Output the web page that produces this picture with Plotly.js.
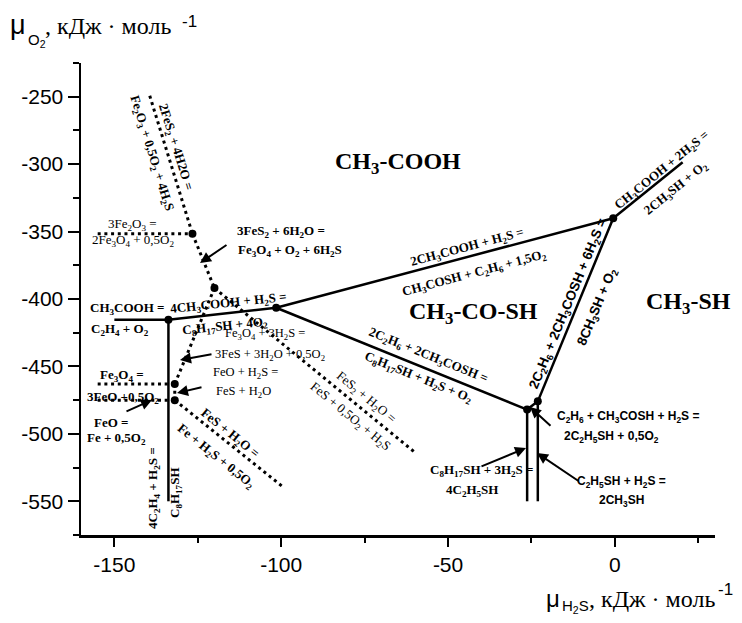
<!DOCTYPE html>
<html>
<head>
<meta charset="utf-8">
<script src="https://cdn.plot.ly/plotly-3.0.1.min.js"></script>
<style>html,body{margin:0;padding:0;background:#fff;}#chart{width:742px;height:623px;}</style>
</head>
<body>
<div id="chart"></div>
<script>
// ---- Data (µH2S, µO2 in kJ/mol) ----
// triple points
const A = [-0.5, -340.1];    // CH3COOH / CH3COSH / CH3SH
const B = [-101.5, -406.5];  // CH3COOH / CH3COSH / C8H17SH
const C = [-133.8, -415.4];  // CH3COOH / C2H4 / C8H17SH
const D = [-26.3, -482.0];   // CH3COSH / C8H17SH / C2H5SH
const E = [-23.1, -475.9];   // CH3COSH / C2H5SH / CH3SH
const F = [-126.6, -351.7];  // Fe2O3 / Fe3O4 / FeS2
const G = [-120.0, -391.9];  // Fe3O4 / FeS2 / FeS
const H = [-131.9, -463.0];  // Fe3O4 / FeO / FeS
const I = [-131.9, -475.0];  // FeO / Fe / FeS

// boundary end points
const endCH3COOH_C2H4 = [-150.0, -415.4];
const endCH3COOH_CH3SH = [20.3, -298.6];
const endC2H4_C8H17SH = [-133.8, -550.0];
const endC8H17SH_C2H5SH = [-26.3, -550.0];
const endC2H5SH_CH3SH = [-23.1, -550.0];
const endFe2O3_FeS2 = [-139.4, -249.3];
const endFe2O3_Fe3O4 = [-155.0, -351.7];
const endFeS2_FeS = [-60.1, -513.4];
const endFe3O4_FeO = [-155.0, -463.0];
const endFeO_Fe = [-155.0, -475.0];
const endFeS_Fe = [-99.5, -539.3];

const solidBoundaries = [
  [endCH3COOH_C2H4, C], [C, B], [B, A], [A, endCH3COOH_CH3SH],
  [C, endC2H4_C8H17SH], [B, D], [A, E], [D, E],
  [D, endC8H17SH_C2H5SH], [E, endC2H5SH_CH3SH]
];
const dottedBoundaries = [
  [endFe2O3_FeS2, F], [endFe2O3_Fe3O4, F], [F, G], [G, H], [G, endFeS2_FeS],
  [endFe3O4_FeO, H], [H, I], [endFeO_Fe, I], [I, endFeS_Fe]
];
const triplePoints = [A, B, C, D, E, F, G, H, I];

const xTickVals = [-150, -100, -50, 0];
const xTickText = ['-150', '-100', '-50', '0'];
const yTickVals = [-250, -300, -350, -400, -450, -500, -550];
const yTickText = ['-250', '-300', '-350', '-400', '-450', '-500', '-550'];

// ---- build traces ----
function segTrace(segs, line) {
  const x = [], y = [];
  segs.forEach(s => { x.push(s[0][0], s[1][0], null); y.push(s[0][1], s[1][1], null); });
  return {type: 'scatter', mode: 'lines', x: x, y: y, line: line, hoverinfo: 'skip', showlegend: false, connectgaps: false};
}
const traces = [
  segTrace(solidBoundaries, {color: '#000', width: 2.5}),
  segTrace(dottedBoundaries, {color: '#000', width: 3, dash: '3px,3.7px'}),
  {type: 'scatter', mode: 'markers', x: triplePoints.map(p => p[0]), y: triplePoints.map(p => p[1]),
   marker: {color: '#000', size: 8}, hoverinfo: 'skip', showlegend: false}
];

// ---- layout helpers (pixel positions in the 742x623 image) ----
const L = 81, T = 63, W = 634, Hh = 472;
const pxX = v => (v - L) / W;
const pxY = v => (T + Hh - v) / Hh;
const SERIF = 'Liberation Serif, Times New Roman, serif';
const SANS = 'Liberation Sans, Arial, sans-serif';
const NARROW = 'Liberation Sans Narrow, Arial Narrow, Liberation Sans, Arial, sans-serif';
const fSB = {family: SERIF, size: 13, color: '#000', weight: 'bold'};
const fSN = {family: SERIF, size: 13, color: '#000'};
const fSN2 = {family: SERIF, size: 12.5, color: '#000'};
const fAB = {family: NARROW, size: 13.5, color: '#000', weight: 'bold'};
const fAB2 = {family: NARROW, size: 12, color: '#000', weight: 'bold'};
const fReg = {family: SERIF, size: 24, color: '#000', weight: 'bold'};

const ann = [];
function lab(text, x, y, font, angle, anchor) {
  ann.push({text: text, x: pxX(x), y: pxY(y), xref: 'paper', yref: 'paper', showarrow: false,
    font: font, textangle: angle || 0, xanchor: anchor || 'center', yanchor: 'middle', borderpad: 0});
}
function arrow(tx, ty, hx, hy) {
  ann.push({text: '', x: pxX(hx), y: pxY(hy), xref: 'paper', yref: 'paper', showarrow: true,
    ax: tx - hx, ay: ty - hy, arrowhead: 2, arrowsize: 1.1, arrowwidth: 2, arrowcolor: '#000', standoff: 0, startstandoff: 0});
}

// region labels
lab('CH<sub>3</sub>-COOH', 398, 163, fReg);
lab('CH<sub>3</sub>-CO-SH', 473, 313, fReg);
lab('CH<sub>3</sub>-SH', 688, 303, fReg);

// Fe system labels
lab('2FeS<sub>2</sub> + 4H2O =', 176, 147, fSB, 72.7);
lab('Fe<sub>2</sub>O<sub>3</sub> + 0,5O<sub>2</sub> + 4H<sub>2</sub>S', 152, 153, fSB, 72.7);
lab('3Fe<sub>2</sub>O<sub>3</sub> =', 132, 224, fSN);
lab('2Fe<sub>3</sub>O<sub>4</sub> + 0,5O<sub>2</sub>', 133, 240, fSN);
lab('3FeS<sub>2</sub> + 6H<sub>2</sub>O =', 236, 231, fSB, 0, 'left');
lab('Fe<sub>3</sub>O<sub>4</sub> + O<sub>2</sub> + 6H<sub>2</sub>S', 237, 250, fSB, 0, 'left');
lab('Fe<sub>3</sub>O<sub>4</sub> + 3H<sub>2</sub>S =', 265, 334, fSN2);
lab('3FeS + 3H<sub>2</sub>O + 0,5O<sub>2</sub>', 270, 355, fSN2);
lab('FeO + H<sub>2</sub>S =', 245, 373, fSN2);
lab('FeS + H<sub>2</sub>O', 243, 392, fSN2);
lab('FeS<sub>2</sub> + H<sub>2</sub>O =', 366, 397, fSN, 39.4);
lab('FeS + 0,5O<sub>2</sub> + H<sub>2</sub>S', 350, 416, fSN, 39.4);
lab('Fe<sub>3</sub>O<sub>4</sub> =', 122, 375, fSB);
lab('3FeO +0,5O<sub>2</sub>', 123, 397, fSB);
lab('FeO =', 111, 422, fSB);
lab('Fe + 0,5O<sub>2</sub>', 116, 438, fSB);
lab('FeS + H<sub>2</sub>O =', 230, 433, fSB, 38.6);
lab('Fe + H<sub>2</sub>S + 0,5O<sub>2</sub>', 216, 456, fSB, 38.6);

// organic system labels
lab('CH<sub>3</sub>COOH =', 127, 308, fSB);
lab('C<sub>2</sub>H<sub>4</sub> + O<sub>2</sub>', 120, 330, fSB);
lab('4CH<sub>3</sub>COOH + H<sub>2</sub>S =', 228, 303, fSB, -6);
lab('C<sub>8</sub>H<sub>17</sub>SH + 4O<sub>2</sub>', 225, 326, fSB, -6);
lab('4C<sub>2</sub>H<sub>4</sub> + H<sub>2</sub>S =', 153, 488, fSB, -90);
lab('C<sub>8</sub>H<sub>17</sub>SH', 175, 493, fSB, -90);
lab('2CH<sub>3</sub>COOH + H<sub>2</sub>S =', 467, 248, fSB, -15);
lab('CH<sub>3</sub>COSH + C<sub>2</sub>H<sub>6</sub> + 1,5O<sub>2</sub>', 474, 273, fSB, -15);
lab('2C<sub>2</sub>H<sub>6</sub> + 2CH<sub>3</sub>COSH =', 428, 355, fSB, 22);
lab('C<sub>8</sub>H<sub>17</sub>SH + H<sub>2</sub>S + O<sub>2</sub>', 418, 377, fSB, 22);
lab('CH<sub>3</sub>COOH + 2H<sub>2</sub>S =', 662, 171, fSB, -39);
lab('2CH<sub>3</sub>SH + O<sub>2</sub>', 676, 189, fSB, -39);
lab('C<sub>8</sub>H<sub>17</sub>SH + 3H<sub>2</sub>S =', 482, 470, fSB);
lab('4C<sub>2</sub>H<sub>5</sub>SH', 472, 490, fSB);
lab('2C<sub>2</sub>H<sub>6</sub> + 2CH<sub>3</sub>COSH + 6H<sub>2</sub>S =', 568, 304, fAB, -67.6);
lab('8CH<sub>3</sub>SH + O<sub>2</sub>', 597, 307, fAB, -67.6);
lab('C<sub>2</sub>H<sub>6</sub> + CH<sub>3</sub>COSH + H<sub>2</sub>S =', 556, 417, fAB2, 0, 'left');
lab('2C<sub>2</sub>H<sub>5</sub>SH + 0,5O<sub>2</sub>', 563, 437, fAB2, 0, 'left');
lab('C<sub>2</sub>H<sub>5</sub>SH + H<sub>2</sub>S =', 621, 482, fAB2);
lab('2CH<sub>3</sub>SH', 621, 501, fAB2);

// arrows
arrow(228, 244, 200, 263);
arrow(213, 354, 180, 360);
arrow(203, 387, 177, 393);
arrow(125, 412, 152, 400);
arrow(480, 467, 526, 448);
arrow(580, 482, 537, 453);
arrow(552, 427, 530, 407);

// axis titles
lab('μ', 9, 25, {family: SANS, size: 27, color: '#000'}, 0, 'left');
lab('O<sub>2</sub>', 27, 41, {family: SANS, size: 15, color: '#000'}, 0, 'left');
lab(', кДж · моль', 44, 26, {family: SERIF, size: 24, color: '#000'}, 0, 'left');
lab('-1', 181, 21, {family: SANS, size: 17, color: '#000'}, 0, 'left');
lab('μ', 545, 598, {family: SANS, size: 24, color: '#000'}, 0, 'left');
lab('H<sub>2</sub>S', 561, 606, {family: SANS, size: 15, color: '#000'}, 0, 'left');
lab(', кДж · моль', 588, 599, {family: SERIF, size: 24, color: '#000'}, 0, 'left');
lab('-1', 717, 589, {family: SANS, size: 17, color: '#000'}, 0, 'left');

const axisFont = {family: NARROW, size: 21, color: '#000'};
const layout = {
  width: 742, height: 623,
  margin: {l: L, r: 742 - L - W, t: T, b: 623 - T - Hh, pad: 0},
  paper_bgcolor: '#fff', plot_bgcolor: '#fff',
  showlegend: false,
  xaxis: {range: [-160, 30], showgrid: false, zeroline: false, showline: true, linecolor: '#000', linewidth: 2.5,
    tickmode: 'array', tickvals: xTickVals, ticktext: xTickText, ticks: 'outside', ticklen: 9, tickwidth: 2, tickcolor: '#000',
    tickfont: axisFont, minor: {tickmode: 'linear', tick0: 0, dtick: 25, ticks: 'outside', ticklen: 5, tickwidth: 2, tickcolor: '#000', showgrid: false}},
  yaxis: {range: [-575, -225], showgrid: false, zeroline: false, showline: true, linecolor: '#000', linewidth: 2.5,
    tickmode: 'array', tickvals: yTickVals, ticktext: yTickText, ticks: 'outside', ticklen: 11, tickwidth: 2, tickcolor: '#000',
    tickfont: axisFont, minor: {tickmode: 'linear', tick0: -225, dtick: 25, ticks: 'outside', ticklen: 6, tickwidth: 2, tickcolor: '#000', showgrid: false}},
  annotations: ann
};
Plotly.newPlot('chart', traces, layout, {staticPlot: true, displayModeBar: false});
</script>
</body>
</html>
